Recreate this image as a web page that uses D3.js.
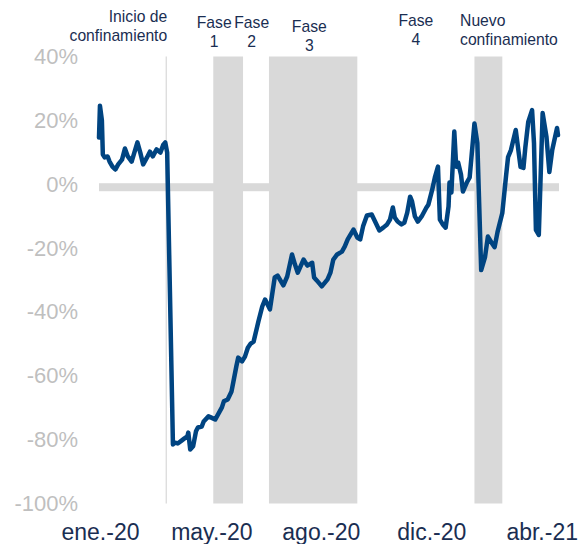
<!DOCTYPE html>
<html>
<head>
<meta charset="utf-8">
<script src="https://cdnjs.cloudflare.com/ajax/libs/d3/7.8.5/d3.min.js"></script>
<style>
  body { margin: 0; background: #fff; }
  text { font-family: "Liberation Sans", Arial, sans-serif; }
</style>
</head>
<body>
<script>

// serie (variacion % vs. nivel previo)
var dates = [
  '2020-01-06','2020-01-07','2020-01-09','2020-01-10','2020-01-12','2020-01-15','2020-01-17','2020-01-20',
  '2020-01-23','2020-01-26','2020-01-30','2020-02-02','2020-02-05','2020-02-09','2020-02-15','2020-02-18',
  '2020-02-21','2020-02-25','2020-02-28','2020-03-02','2020-03-06','2020-03-10','2020-03-13','2020-03-15',
  '2020-03-17','2020-03-23','2020-03-25','2020-03-28','2020-04-01','2020-04-04','2020-04-07','2020-04-08',
  '2020-04-10','2020-04-13','2020-04-16','2020-04-18','2020-04-22','2020-04-24','2020-04-29','2020-05-02',
  '2020-05-06','2020-05-09','2020-05-13','2020-05-15','2020-05-19','2020-05-23','2020-05-25','2020-05-28',
  '2020-05-30','2020-06-03','2020-06-06','2020-06-09','2020-06-12','2020-06-15','2020-06-20','2020-06-24',
  '2020-06-27','2020-07-02','2020-07-07','2020-07-10','2020-07-16','2020-07-20','2020-07-25','2020-07-28',
  '2020-07-31','2020-08-06','2020-08-10','2020-08-15','2020-08-17','2020-08-20','2020-08-25','2020-08-31',
  '2020-09-03','2020-09-06','2020-09-10','2020-09-15','2020-09-18','2020-09-21','2020-09-27','2020-10-01',
  '2020-10-04','2020-10-07','2020-10-11','2020-10-16','2020-10-20','2020-10-24','2020-10-28','2020-11-01',
  '2020-11-04','2020-11-07','2020-11-09','2020-11-12','2020-11-16','2020-11-19','2020-11-22','2020-11-25',
  '2020-11-27','2020-11-30','2020-12-03','2020-12-07','2020-12-12','2020-12-14','2020-12-18','2020-12-21',
  '2020-12-24','2020-12-26','2020-12-29','2021-01-01','2021-01-04','2021-01-05','2021-01-07','2021-01-10',
  '2021-01-12','2021-01-14','2021-01-17','2021-01-19','2021-01-23','2021-01-26','2021-01-31','2021-02-03',
  '2021-02-07','2021-02-11','2021-02-14','2021-02-18','2021-02-21','2021-02-24','2021-03-01','2021-03-05',
  '2021-03-07','2021-03-10','2021-03-15','2021-03-20','2021-03-23','2021-03-25','2021-03-28','2021-04-01',
  '2021-04-03','2021-04-05','2021-04-08','2021-04-12','2021-04-16','2021-04-19','2021-04-22','2021-04-27',
  '2021-04-28'
];
var values = [
  14.6, 24.6, 20.0, 9.3, 8.4, 8.7, 7.1, 5.5,
  4.6, 6.2, 7.7, 11.2, 8.7, 7.1, 13.1, 9.9,
  6.2, 8.4, 10.2, 8.7, 10.9, 9.9, 12.4, 13.1,
  9.9, -81.5, -80.9, -81.2, -80.3, -79.6, -79.0, -77.8,
  -83.1, -82.1, -77.4, -76.2, -75.9, -74.3, -72.7, -73.1,
  -73.7, -72.1, -69.9, -68.0, -67.4, -64.9, -61.8, -57.1,
  -54.3, -55.5, -54.0, -51.2, -49.9, -49.3, -43.0, -38.3,
  -36.1, -39.2, -29.2, -28.6, -31.7, -28.9, -22.0, -25.1,
  -27.7, -23.6, -25.5, -24.6, -29.2, -30.2, -32.0, -29.8,
  -27.7, -23.6, -22.0, -21.1, -19.5, -17.3, -14.2, -16.7,
  -17.3, -13.2, -9.8, -9.5, -12.0, -14.5, -13.6, -12.6,
  -11.1, -7.3, -10.4, -11.7, -12.6, -12.0, -8.9, -3.9,
  -5.4, -10.1, -11.7, -10.1, -7.3, -6.4, -1.7, 2.4,
  5.5, -11.1, -12.6, -13.6, -7.0, 0.5, -2.6, 16.5,
  5.5, 6.8, 3.0, -2.3, 0.5, 2.1, 19.0, 12.9,
  -26.9, -22.8, -16.4, -18.4, -19.7, -15.0, -9.0, 2.9,
  8.5, 10.7, 17.0, 5.4, 5.1, 11.6, 19.5, 23.2,
  12.9, -14.3, -15.9, 22.3, 14.8, 3.8, 10.7, 17.6,
  15.4
];

var yTicks = [40, 20, 0, -20, -40, -60, -80, -100];
var tickDates = ['2020-01-07', '2020-05-02', '2020-08-24', '2020-12-17', '2021-04-11'];
var tickLabels = ['ene.-20', 'may.-20', 'ago.-20', 'dic.-20', 'abr.-21'];

// periodos sombreados: Fase 1, Fase 3, nuevo confinamiento
var shadeStart = ['2020-05-04', '2020-07-01', '2021-01-31'];
var shadeEnd = ['2020-06-04', '2020-10-01', '2021-03-01'];
var lockdownDate = '2020-03-16';

var noteDates = ['2020-03-16', '2020-05-05', '2020-06-13', '2020-08-12', '2020-12-01', '2021-01-16'];
var noteLines = [
  ['Inicio de', 'confinamiento'], ['Fase', '1'], ['Fase', '2'],
  ['Fase', '3'], ['Fase', '4'], ['Nuevo', 'confinamiento']
];

var w = 582, h = 544;
var parse = d3.timeParse('%Y-%m-%d');
var data = dates.map(function (d, i) { return { date: parse(d), value: values[i] }; });

var svg = d3.select('body').append('svg')
  .attr('width', w)
  .attr('height', h);

var x = d3.scaleTime()
  .domain(d3.extent(data, function (d) { return d.date; }))
  .range([99, 558]);

var y = d3.scaleLinear()
  .domain([-100, 40])
  .range([503.5, 56.5]);

// bandas grises
svg.selectAll('rect.shade').data(shadeStart)
  .enter()
  .append('rect')
  .attr('class', 'shade')
  .attr('x', function (d) { return x(parse(d)); })
  .attr('width', function (d, i) { return x(parse(shadeEnd[i])) - x(parse(d)); })
  .attr('y', y(40))
  .attr('height', y(-100) - y(40))
  .attr('fill', '#d9d9d9');

// linea gruesa en 0%
svg.append('rect')
  .attr('x', x.range()[0])
  .attr('width', x.range()[1] - x.range()[0] + 1)
  .attr('y', y(0) - 1)
  .attr('height', 8)
  .attr('fill', '#d9d9d9');

// inicio de confinamiento
svg.append('line')
  .attr('x1', x(parse(lockdownDate)))
  .attr('x2', x(parse(lockdownDate)))
  .attr('y1', y(40))
  .attr('y2', y(-100))
  .attr('stroke', '#d0d0d0')
  .attr('stroke-width', 1);

// ejes
var yAxis = d3.axisLeft(y)
  .tickValues(yTicks)
  .tickSize(0)
  .tickPadding(21)
  .tickFormat(function (d) { return d + '%'; });

svg.append('g')
  .attr('transform', 'translate(' + x.range()[0] + ',0)')
  .call(yAxis)
  .call(function (g) { g.select('.domain').remove(); })
  .selectAll('text')
  .attr('font-family', '"Liberation Sans", Arial, sans-serif')
  .attr('font-size', '22px')
  .attr('fill', '#bfbfbf');

var xAxis = d3.axisBottom(x)
  .tickValues(tickDates.map(parse))
  .tickSize(0)
  .tickPadding(20)
  .tickFormat(function (d, i) { return tickLabels[i]; });

svg.append('g')
  .attr('transform', 'translate(0,' + y(-100) + ')')
  .call(xAxis)
  .call(function (g) { g.select('.domain').remove(); })
  .selectAll('text')
  .attr('font-family', '"Liberation Sans", Arial, sans-serif')
  .attr('font-size', '23px')
  .attr('fill', '#1a2e52');

// serie
var line = d3.line()
  .x(function (d) { return x(d.date); })
  .y(function (d) { return y(d.value); });

svg.append('path')
  .datum(data)
  .attr('d', line)
  .attr('fill', 'none')
  .attr('stroke', '#004481')
  .attr('stroke-width', 4.5)
  .attr('stroke-linejoin', 'round')
  .attr('stroke-linecap', 'round');

// anotaciones
var noteTop = [22, 28, 28, 31.5, 25.5, 25.5];
var notes = svg.selectAll('text.note').data(noteLines)
  .enter()
  .append('text')
  .attr('class', 'note')
  .attr('font-size', '15.7px')
  .attr('fill', '#1a2e52')
  .attr('text-anchor', function (d, i) {
    return i === 0 ? 'end' : (i === noteLines.length - 1 ? 'start' : 'middle');
  })
  .attr('x', function (d, i) { return x(parse(noteDates[i])) + (i === 0 ? 1 : 0); })
  .attr('y', function (d, i) { return noteTop[i]; });

notes.selectAll('tspan').data(function (d) { return d; })
  .enter()
  .append('tspan')
  .attr('x', function () { return d3.select(this.parentNode).attr('x'); })
  .attr('dy', function (d, i) { return i === 0 ? 0 : 19; })
  .text(function (d) { return d; });

</script>
</body>
</html>
